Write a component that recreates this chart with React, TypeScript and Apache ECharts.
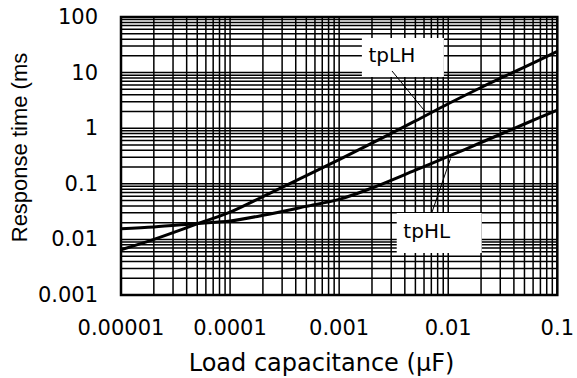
import React, { useEffect, useRef } from 'react';
import * as echarts from 'echarts';

// Load capacitance (µF)
const capacitance = [1e-5, 2e-5, 5e-5, 1e-4, 2e-4, 5e-4, 1e-3, 2e-3, 5e-3, 1e-2, 2e-2, 5e-2, 1e-1];
// Response time (ms)
const tpLH = [0.0065, 0.01, 0.019, 0.031, 0.059, 0.14, 0.272, 0.54, 1.35, 2.75, 5.4, 12.6, 24];
const tpHL = [0.0155, 0.0167, 0.0193, 0.0214, 0.0271, 0.0393, 0.0525, 0.084, 0.176, 0.31, 0.553, 1.19, 2.12];

const xTickLabels = ['0.00001', '0.0001', '0.001', '0.01', '0.1'];
const yTickLabels = ['0.001', '0.01', '0.1', '1', '10', '100'];
const xDecades = [1e-5, 1e-4, 1e-3, 1e-2];
const yDecades = [1e-3, 1e-2, 1e-1, 1, 10];
const gridSteps = [1, 2, 3, 4, 5, 6, 7, 8, 9];

const X_MIN = 1e-5, X_MAX = 0.1, Y_MIN = 0.001, Y_MAX = 100;

// annotation anchors (data space)
const tpLHLabelAt = [3.84e-3, 18.7];
const tpLHLeader = [[3.05e-3, 10.7], [6.2e-3, 1.95]];
const tpHLLabelAt = [8.27e-3, 0.013];
const tpHLLeader = [[7.06e-3, 0.0299], [0.0105, 0.285]];

const gridXValues: number[] = [];
xDecades.forEach((d) => gridSteps.forEach((m) => gridXValues.push(+(m * d).toPrecision(3))));
gridXValues.push(X_MAX);
const gridYValues: number[] = [];
yDecades.forEach((d) => gridSteps.forEach((m) => gridYValues.push(+(m * d).toPrecision(3))));
gridYValues.push(Y_MAX);

const TICK_FONT = '"DejaVu Sans", sans-serif';

export default function App() {
  const ref = useRef<HTMLDivElement>(null);
  useEffect(() => {
    if (!ref.current) return;
    const chart = echarts.init(ref.current, undefined, { renderer: 'svg' });
    const lineStyleGrid = { stroke: '#000', lineWidth: 1.5 };
    chart.setOption({
      animation: false,
      backgroundColor: '#fff',
      grid: {
        left: 121, right: 18, top: 17, bottom: 83,
        show: true, borderColor: '#000', borderWidth: 2.5, backgroundColor: 'transparent',
      },
      xAxis: {
        type: 'log', logBase: 10, min: X_MIN, max: X_MAX, splitNumber: 4,
        axisLine: { show: false }, axisTick: { show: false }, splitLine: { show: false },
        axisLabel: {
          margin: 22, color: '#000', fontSize: 21, fontFamily: TICK_FONT,
          formatter: (v: number) => xTickLabels[Math.round(Math.log10(v)) + 5] ?? '',
        },
      },
      yAxis: {
        type: 'log', logBase: 10, min: Y_MIN, max: Y_MAX, splitNumber: 5,
        axisLine: { show: false }, axisTick: { show: false }, splitLine: { show: false },
        axisLabel: {
          margin: 23, color: '#000', fontSize: 21, fontFamily: TICK_FONT,
          formatter: (v: number) => yTickLabels[Math.round(Math.log10(v)) + 3] ?? '',
        },
      },
      graphic: [
        {
          type: 'text', x: 321.5, y: 363,
          style: {
            text: 'Load capacitance (μF)', fill: '#000', font: '24px "DejaVu Sans", sans-serif',
            textAlign: 'center', textVerticalAlign: 'middle',
          },
        },
        {
          type: 'text', x: 19, y: 147.5, rotation: Math.PI / 2,
          style: {
            text: 'Response time (ms', fill: '#000', font: '22px "Liberation Sans", Arial, sans-serif',
            textAlign: 'center', textVerticalAlign: 'middle',
          },
        },
      ],
      series: [
        {
          type: 'custom', z: 1, silent: true, clip: false,
          data: gridXValues.map((x) => [x, Y_MIN]),
          encode: { x: 0, y: 1 },
          renderItem: (params: any, api: any) => {
            const x = api.value(0);
            const a = api.coord([x, Y_MIN]);
            const b = api.coord([x, Y_MAX]);
            return { type: 'line', shape: { x1: a[0], y1: a[1], x2: b[0], y2: b[1] }, style: lineStyleGrid };
          },
        },
        {
          type: 'custom', z: 1, silent: true, clip: false,
          data: gridYValues.map((y) => [X_MIN, y]),
          encode: { x: 0, y: 1 },
          renderItem: (params: any, api: any) => {
            const y = api.value(1);
            const a = api.coord([X_MIN, y]);
            const b = api.coord([X_MAX, y]);
            return { type: 'line', shape: { x1: a[0], y1: a[1], x2: b[0], y2: b[1] }, style: lineStyleGrid };
          },
        },
        {
          name: 'tpLH', type: 'line', z: 3, smooth: 0.3, showSymbol: false,
          data: capacitance.map((c, i) => [c, tpLH[i]]),
          lineStyle: { color: '#000', width: 3 },
          markPoint: {
            silent: true, symbol: 'rect', symbolSize: [82, 39], z: 4,
            itemStyle: { color: '#fff' },
            label: {
              show: true, formatter: 'tpLH', color: '#000', fontSize: 20,
              fontFamily: TICK_FONT, offset: [-11, -2],
            },
            data: [{ coord: tpLHLabelAt }],
          },
          markLine: {
            silent: true, symbol: ['none', 'none'], label: { show: false }, z: 6,
            lineStyle: { color: '#000', width: 1, type: 'solid' },
            data: [[{ coord: tpLHLeader[0] }, { coord: tpLHLeader[1] }]],
          },
        },
        {
          name: 'tpHL', type: 'line', z: 3, smooth: 0.3, showSymbol: false,
          data: capacitance.map((c, i) => [c, tpHL[i]]),
          lineStyle: { color: '#000', width: 3 },
          markPoint: {
            silent: true, symbol: 'rect', symbolSize: [85, 40], z: 4,
            itemStyle: { color: '#fff' },
            label: {
              show: true, formatter: 'tpHL', color: '#000', fontSize: 20,
              fontFamily: TICK_FONT, offset: [-12.5, -2.5],
            },
            data: [{ coord: tpHLLabelAt }],
          },
          markLine: {
            silent: true, symbol: ['none', 'none'], label: { show: false }, z: 6,
            lineStyle: { color: '#000', width: 1, type: 'solid' },
            data: [[{ coord: tpHLLeader[0] }, { coord: tpHLLeader[1] }]],
          },
        },
      ],
    });
    return () => chart.dispose();
  }, []);
  return <div ref={ref} style={{ position: 'fixed', left: 0, top: 0, width: 577, height: 378 }} />;
}
